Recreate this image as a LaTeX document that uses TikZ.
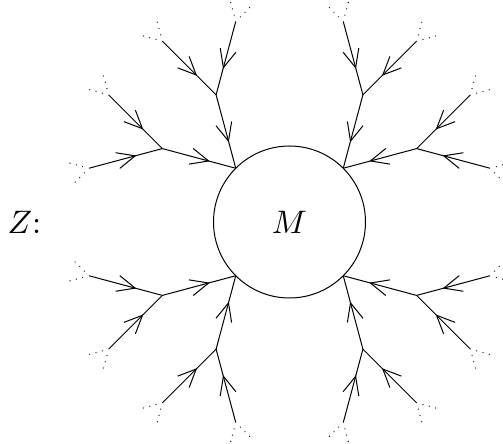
\documentclass[tikz,border=0pt]{standalone}
\usepackage{graphicx}
\usetikzlibrary{decorations.markings,calc}
\tikzset{
  conn/.style={line width=1pt, postaction={decorate}, decoration={markings, mark=at position 0.63 with {\draw[line width=1pt, solid] (-18.1pt,8.1pt) -- (0pt,0pt) -- (-18.1pt,-8.1pt);}}},
  stub/.style={line width=1.3pt, line cap=round, dash pattern=on 0pt off 6.5pt},
  ring/.style={draw, circle, line width=1pt, minimum size=152pt, inner sep=0pt, outer sep=0pt}
}
\newcommand{\bigtext}[1]{\scalebox{3.25}{#1}}
\begin{document}
\begin{tikzpicture}[x=1pt,y=1pt]
\useasboundingbox (0,0) rectangle (503,444);
\coordinate (C) at (289.5,222);
\node[ring] (M) at (C) {\bigtext{$M$}};
\node[inner sep=0pt] (Z) at (24.5,222) {\bigtext{$Z$:}};
\foreach \q/\th in {a/135,b/45,c/225,d/315}{
  \coordinate (r\q) at (M.\th);
  \foreach \s/\sn in {-30/1,30/2}{
    \pgfmathsetmacro\angB{\th+\s}
    \coordinate (r\q\sn) at ($(r\q)+(\angB:76pt)$);
    \draw[conn] (r\q\sn) -- (r\q);
    \foreach \t/\tn in {-30/1,30/2}{
      \pgfmathsetmacro\angL{\angB+\t}
      \coordinate (r\q\sn\tn) at ($(r\q\sn)+(\angL:76pt)$);
      \draw[conn] (r\q\sn\tn) -- (r\q\sn);
      \foreach \u/\un in {-30/1,30/2}{
        \pgfmathsetmacro\angS{\angL+\u}
        \coordinate (s\q\sn\tn\un) at ($(r\q\sn\tn)+(\angS:6.5pt)$);
        \coordinate (e\q\sn\tn\un) at ($(r\q\sn\tn)+(\angS:19.5pt)$);
        \draw[stub] (s\q\sn\tn\un) -- (e\q\sn\tn\un);
      }
    }
  }
}
\end{tikzpicture}
\end{document}
